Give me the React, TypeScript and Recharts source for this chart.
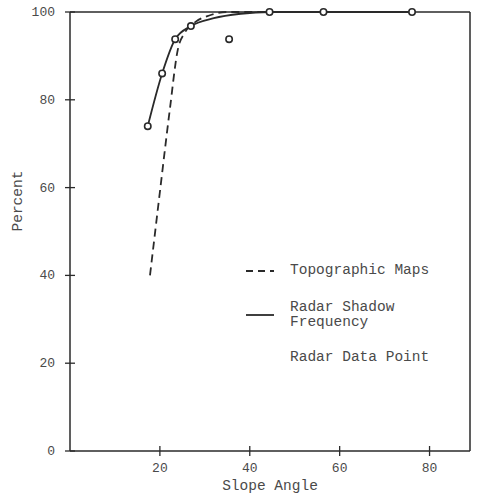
import { ComposedChart, Line, Scatter, XAxis, YAxis, ReferenceLine } from 'recharts';

const topoMaps = [
  { x: 17.8, y: 40 },
  { x: 20, y: 59 },
  { x: 22.2, y: 77.7 },
  { x: 24, y: 91.5 },
  { x: 25.5, y: 95.2 },
  { x: 28, y: 97.8 },
  { x: 31, y: 99.2 },
  { x: 35, y: 100 },
  { x: 45, y: 100 },
];

const radarShadow = [
  { x: 17.3, y: 74 },
  { x: 20.5, y: 86 },
  { x: 23.4, y: 93.8 },
  { x: 26.9, y: 96.8 },
  { x: 32, y: 98.6 },
  { x: 38, y: 99.6 },
  { x: 44.4, y: 100 },
  { x: 56.4, y: 100 },
  { x: 76.1, y: 100 },
];

const radarPoints = [
  { x: 17.3, y: 74 },
  { x: 20.5, y: 86 },
  { x: 23.4, y: 93.8 },
  { x: 26.9, y: 96.8 },
  { x: 35.4, y: 93.8 },
  { x: 44.4, y: 100 },
  { x: 56.4, y: 100 },
  { x: 76.1, y: 100 },
];

const xTicks = [20, 40, 60, 80];
const yTicks = [0, 20, 40, 60, 80, 100];

const legendItems = [
  { lines: ['Topographic Maps'], dash: '7 5', mark: true },
  { lines: ['Radar Shadow', 'Frequency'], dash: undefined, mark: true },
  { lines: ['Radar Data Point'], dash: undefined, mark: false },
];

const FONT = '"Liberation Mono", "DejaVu Sans Mono", monospace';
const INK = '#2a2a2a';
const TEXT = '#4a4a4a';

function XTick({ x, y, payload }: any) {
  return (
    <g>
      <line x1={x} x2={x} y1={y - 5} y2={y + 5} stroke={INK} strokeWidth={1.3} />
      <text x={x} y={y + 21} textAnchor="middle" fontFamily={FONT} fontSize={13} fill={TEXT}>
        {payload.value}
      </text>
    </g>
  );
}

function YTick({ x, y, payload }: any) {
  return (
    <g>
      <line x1={x - 5} x2={x + 5} y1={y} y2={y} stroke={INK} strokeWidth={1.3} />
      <text x={x - 15} y={y + 4} textAnchor="end" fontFamily={FONT} fontSize={13} fill={TEXT}>
        {payload.value}
      </text>
    </g>
  );
}

function LegendBox() {
  return (
    <div
      style={{
        position: 'absolute',
        left: 245,
        top: 263,
        fontFamily: FONT,
        fontSize: 14.5,
        color: TEXT,
        lineHeight: '15px',
      }}
    >
      {legendItems.map((item, i) => (
        <div key={i} style={{ display: 'flex', alignItems: 'center', marginBottom: i === 0 ? 22 : 20 }}>
          <svg width={45} height={12} style={{ flexShrink: 0 }}>
            {item.mark && (
              <line x1={1} x2={29} y1={6} y2={6} stroke={INK} strokeWidth={1.8} strokeDasharray={item.dash} />
            )}
          </svg>
          <div>
            {item.lines.map((l) => (
              <div key={l}>{l}</div>
            ))}
          </div>
        </div>
      ))}
    </div>
  );
}

export default function App() {
  return (
    <div style={{ position: 'absolute', left: 0, top: 0, width: 478, height: 494, background: '#fff' }}>
      <ComposedChart width={478} height={494} margin={{ top: 12, right: 8, bottom: 0, left: 0 }}>
        <XAxis
          type="number"
          dataKey="x"
          domain={[0, 89]}
          ticks={xTicks}
          height={43}
          tickSize={0}
          tickMargin={0}
          tick={<XTick />}
          axisLine={{ stroke: INK, strokeWidth: 1.5 }}
          label={{ value: 'Slope Angle', position: 'insideBottom', offset: 4, fontFamily: FONT, fontSize: 14.5, fill: TEXT }}
        />
        <YAxis
          type="number"
          dataKey="y"
          domain={[0, 100]}
          ticks={yTicks}
          width={70}
          tickSize={0}
          tickMargin={0}
          tick={<YTick />}
          axisLine={{ stroke: INK, strokeWidth: 1.5 }}
          label={{ value: 'Percent', angle: -90, position: 'insideLeft', offset: 17, fontFamily: FONT, fontSize: 14.5, fill: TEXT }}
        />
        <ReferenceLine y={100} stroke={INK} strokeWidth={1.5} />
        <ReferenceLine x={89} stroke={INK} strokeWidth={1.5} />
        <Line
          data={topoMaps}
          dataKey="y"
          type="monotone"
          stroke={INK}
          strokeWidth={1.8}
          strokeDasharray="8 5"
          dot={false}
          isAnimationActive={false}
        />
        <Line
          data={radarShadow}
          dataKey="y"
          type="monotone"
          stroke={INK}
          strokeWidth={1.8}
          dot={false}
          isAnimationActive={false}
        />
        <Scatter
          data={radarPoints}
          dataKey="y"
          isAnimationActive={false}
          shape={(p: any) => <circle cx={p.cx} cy={p.cy} r={3.2} fill="#fff" stroke={INK} strokeWidth={1.6} />}
        />
      </ComposedChart>
      <LegendBox />
    </div>
  );
}
